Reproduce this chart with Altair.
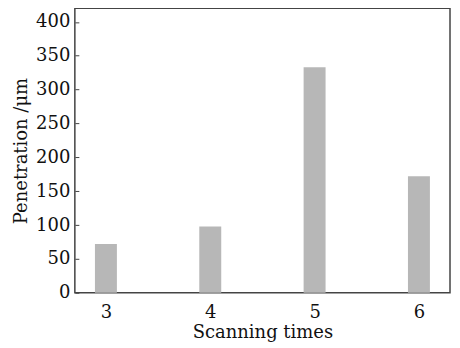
import altair as alt
import pandas as pd

scans = [3, 4, 5, 6]
penetration = [72, 98, 333, 172]
y_ticks = [0, 50, 100, 150, 200, 250, 300, 350, 400]

df = pd.DataFrame({"scan": scans, "pen": penetration})

FONT = "DejaVu Serif"
AX = "#444444"

chart = alt.Chart(df).mark_bar(color="#b7b7b7", size=22).encode(
    x=alt.X("scan:Q",
            scale=alt.Scale(domain=[2.75, 6.25], nice=False, zero=False),
            axis=alt.Axis(values=scans, title="Scanning times", ticks=False,
                          grid=False, domain=False, labelPadding=11,
                          titlePadding=2, format="d")),
    y=alt.Y("pen:Q",
            scale=alt.Scale(domain=[0, 420], nice=False),
            axis=alt.Axis(values=y_ticks, title="Penetration /μm", grid=False,
                          domain=False, tickSize={"expr": "-4"}, tickColor=AX,
                          labelPadding=9, titlePadding=5)),
).properties(
    width=376, height=285,
    padding={"left": 67, "top": 0, "right": 2, "bottom": 50},
    autosize=alt.AutoSizeParams(type="none"),
).configure_view(
    stroke=AX, strokeWidth=1.5
).configure_axis(
    labelFont=FONT, titleFont=FONT, labelFontSize=18, titleFontSize=18,
    titleFontWeight="normal", labelColor="#111111", titleColor="#111111",
)

chart.save("out.html", embed_options={"renderer": "svg", "actions": False})
